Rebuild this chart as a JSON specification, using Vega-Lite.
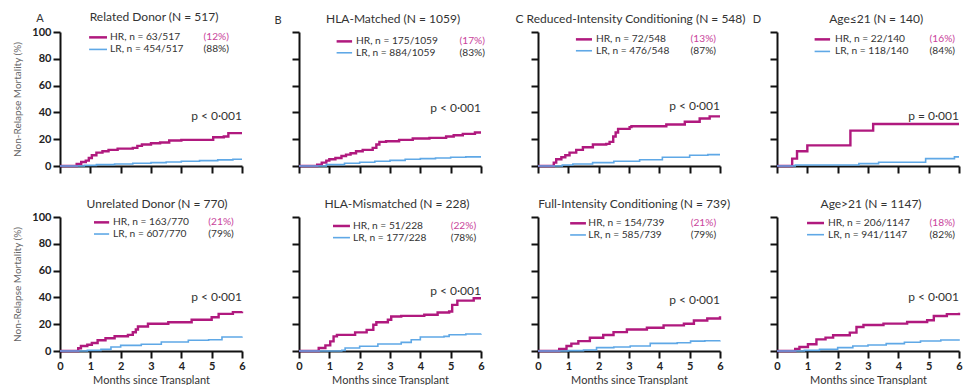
{
"$schema":"https://vega.github.io/schema/vega-lite/v6.json",
"background":"white",
"padding":{"left":12,"top":11,"right":0,"bottom":0},
"datasets":{
"labels":[
{"panel":"A1","title":"Related Donor (N = 517)","letter":"A","hr":"HR, n = 63/517","hrPct":"(12%)","lr":"LR, n = 454/517","lrPct":"(88%)","p":"p < 0·001"},
{"panel":"B1","title":"HLA-Matched (N = 1059)","letter":"B","hr":"HR, n = 175/1059","hrPct":"(17%)","lr":"LR, n = 884/1059","lrPct":"(83%)","p":"p < 0·001"},
{"panel":"C1","title":"C Reduced-Intensity Conditioning (N = 548)","letter":"","hr":"HR, n = 72/548","hrPct":"(13%)","lr":"LR, n = 476/548","lrPct":"(87%)","p":"p < 0·001"},
{"panel":"D1","title":"Age≤21 (N = 140)","letter":"D","hr":"HR, n = 22/140","hrPct":"(16%)","lr":"LR, n = 118/140","lrPct":"(84%)","p":"p = 0·001"},
{"panel":"A2","title":"Unrelated Donor (N = 770)","letter":"","hr":"HR, n = 163/770","hrPct":"(21%)","lr":"LR, n = 607/770","lrPct":"(79%)","p":"p < 0·001"},
{"panel":"B2","title":"HLA-Mismatched (N = 228)","letter":"","hr":"HR, n = 51/228","hrPct":"(22%)","lr":"LR, n = 177/228","lrPct":"(78%)","p":"p < 0·001"},
{"panel":"C2","title":"Full-Intensity Conditioning (N = 739)","letter":"","hr":"HR, n = 154/739","hrPct":"(21%)","lr":"LR, n = 585/739","lrPct":"(79%)","p":"p < 0·001"},
{"panel":"D2","title":"Age>21 (N = 1147)","letter":"","hr":"HR, n = 206/1147","hrPct":"(18%)","lr":"LR, n = 941/1147","lrPct":"(82%)","p":"p < 0·001"}
],
"curves":[
{"panel":"A1","group":"HR","month":0,"nrm":0},{"panel":"A1","group":"HR","month":0.45,"nrm":0},{"panel":"A1","group":"HR","month":0.55,"nrm":1.5},{"panel":"A1","group":"HR","month":0.7,"nrm":3},{"panel":"A1","group":"HR","month":0.85,"nrm":4},{"panel":"A1","group":"HR","month":0.95,"nrm":6},{"panel":"A1","group":"HR","month":1.05,"nrm":8},{"panel":"A1","group":"HR","month":1.2,"nrm":10},{"panel":"A1","group":"HR","month":1.4,"nrm":11},{"panel":"A1","group":"HR","month":1.6,"nrm":12},{"panel":"A1","group":"HR","month":1.9,"nrm":13},{"panel":"A1","group":"HR","month":2.4,"nrm":13.5},{"panel":"A1","group":"HR","month":2.55,"nrm":15},{"panel":"A1","group":"HR","month":2.7,"nrm":16},{"panel":"A1","group":"HR","month":3.0,"nrm":17},{"panel":"A1","group":"HR","month":3.3,"nrm":17.5},{"panel":"A1","group":"HR","month":3.6,"nrm":19},{"panel":"A1","group":"HR","month":4.0,"nrm":19.5},{"panel":"A1","group":"HR","month":4.9,"nrm":19.5},{"panel":"A1","group":"HR","month":5.05,"nrm":21.5},{"panel":"A1","group":"HR","month":5.4,"nrm":22},{"panel":"A1","group":"HR","month":5.55,"nrm":24.5},{"panel":"A1","group":"HR","month":6,"nrm":24.5},
{"panel":"A1","group":"LR","month":0,"nrm":0},{"panel":"A1","group":"LR","month":0.6,"nrm":0},{"panel":"A1","group":"LR","month":0.8,"nrm":0.5},{"panel":"A1","group":"LR","month":1.2,"nrm":1},{"panel":"A1","group":"LR","month":1.8,"nrm":1.5},{"panel":"A1","group":"LR","month":2.4,"nrm":2},{"panel":"A1","group":"LR","month":3,"nrm":2.5},{"panel":"A1","group":"LR","month":3.5,"nrm":3},{"panel":"A1","group":"LR","month":4,"nrm":3.5},{"panel":"A1","group":"LR","month":4.6,"nrm":4},{"panel":"A1","group":"LR","month":5.2,"nrm":4.6},{"panel":"A1","group":"LR","month":5.7,"nrm":5},{"panel":"A1","group":"LR","month":6,"nrm":5},
{"panel":"B1","group":"HR","month":0,"nrm":0},{"panel":"B1","group":"HR","month":0.5,"nrm":0},{"panel":"B1","group":"HR","month":0.6,"nrm":1},{"panel":"B1","group":"HR","month":0.75,"nrm":2.5},{"panel":"B1","group":"HR","month":0.9,"nrm":4},{"panel":"B1","group":"HR","month":1.0,"nrm":5},{"panel":"B1","group":"HR","month":1.2,"nrm":6},{"panel":"B1","group":"HR","month":1.4,"nrm":7.5},{"panel":"B1","group":"HR","month":1.55,"nrm":8.5},{"panel":"B1","group":"HR","month":1.7,"nrm":9.5},{"panel":"B1","group":"HR","month":1.88,"nrm":11},{"panel":"B1","group":"HR","month":2.1,"nrm":12},{"panel":"B1","group":"HR","month":2.43,"nrm":13.5},{"panel":"B1","group":"HR","month":2.55,"nrm":16},{"panel":"B1","group":"HR","month":2.65,"nrm":18},{"panel":"B1","group":"HR","month":2.87,"nrm":18.5},{"panel":"B1","group":"HR","month":3.3,"nrm":19.5},{"panel":"B1","group":"HR","month":3.75,"nrm":20.5},{"panel":"B1","group":"HR","month":4.3,"nrm":21},{"panel":"B1","group":"HR","month":4.85,"nrm":22},{"panel":"B1","group":"HR","month":5.1,"nrm":23},{"panel":"B1","group":"HR","month":5.4,"nrm":24},{"panel":"B1","group":"HR","month":5.8,"nrm":25},{"panel":"B1","group":"HR","month":6,"nrm":25},
{"panel":"B1","group":"LR","month":0,"nrm":0},{"panel":"B1","group":"LR","month":0.6,"nrm":0},{"panel":"B1","group":"LR","month":0.9,"nrm":1},{"panel":"B1","group":"LR","month":1.5,"nrm":2},{"panel":"B1","group":"LR","month":2,"nrm":2.8},{"panel":"B1","group":"LR","month":2.5,"nrm":3.5},{"panel":"B1","group":"LR","month":3,"nrm":4.2},{"panel":"B1","group":"LR","month":3.5,"nrm":5},{"panel":"B1","group":"LR","month":4,"nrm":5.5},{"panel":"B1","group":"LR","month":4.5,"nrm":6},{"panel":"B1","group":"LR","month":5,"nrm":6.5},{"panel":"B1","group":"LR","month":5.5,"nrm":6.8},{"panel":"B1","group":"LR","month":6,"nrm":6.8},
{"panel":"C1","group":"HR","month":0,"nrm":0},{"panel":"C1","group":"HR","month":0.44,"nrm":0},{"panel":"C1","group":"HR","month":0.52,"nrm":2.5},{"panel":"C1","group":"HR","month":0.6,"nrm":5},{"panel":"C1","group":"HR","month":0.77,"nrm":6.5},{"panel":"C1","group":"HR","month":0.9,"nrm":8},{"panel":"C1","group":"HR","month":1.04,"nrm":10},{"panel":"C1","group":"HR","month":1.26,"nrm":12},{"panel":"C1","group":"HR","month":1.48,"nrm":14},{"panel":"C1","group":"HR","month":1.81,"nrm":16},{"panel":"C1","group":"HR","month":2.25,"nrm":16.5},{"panel":"C1","group":"HR","month":2.36,"nrm":18},{"panel":"C1","group":"HR","month":2.48,"nrm":22},{"panel":"C1","group":"HR","month":2.56,"nrm":25},{"panel":"C1","group":"HR","month":2.64,"nrm":27.7},{"panel":"C1","group":"HR","month":3.02,"nrm":29},{"panel":"C1","group":"HR","month":3.08,"nrm":29.7},{"panel":"C1","group":"HR","month":4.23,"nrm":31},{"panel":"C1","group":"HR","month":4.84,"nrm":33},{"panel":"C1","group":"HR","month":5.33,"nrm":35.4},{"panel":"C1","group":"HR","month":5.66,"nrm":37},{"panel":"C1","group":"HR","month":6,"nrm":37},
{"panel":"C1","group":"LR","month":0,"nrm":0},{"panel":"C1","group":"LR","month":0.55,"nrm":0},{"panel":"C1","group":"LR","month":0.8,"nrm":0.8},{"panel":"C1","group":"LR","month":1.15,"nrm":1.5},{"panel":"C1","group":"LR","month":1.8,"nrm":2.5},{"panel":"C1","group":"LR","month":2.5,"nrm":3.5},{"panel":"C1","group":"LR","month":3.35,"nrm":4.7},{"panel":"C1","group":"LR","month":4.1,"nrm":6.5},{"panel":"C1","group":"LR","month":5,"nrm":8},{"panel":"C1","group":"LR","month":5.6,"nrm":8.5},{"panel":"C1","group":"LR","month":6,"nrm":8.5},
{"panel":"D1","group":"HR","month":0,"nrm":0},{"panel":"D1","group":"HR","month":0.5,"nrm":5.5},{"panel":"D1","group":"HR","month":0.66,"nrm":11},{"panel":"D1","group":"HR","month":1.0,"nrm":15.4},{"panel":"D1","group":"HR","month":2.42,"nrm":26.4},{"panel":"D1","group":"HR","month":3.17,"nrm":31.3},{"panel":"D1","group":"HR","month":6,"nrm":31.3},
{"panel":"D1","group":"LR","month":0,"nrm":0},{"panel":"D1","group":"LR","month":0.6,"nrm":0.8},{"panel":"D1","group":"LR","month":2.7,"nrm":1.8},{"panel":"D1","group":"LR","month":3.35,"nrm":2.8},{"panel":"D1","group":"LR","month":4.9,"nrm":5.5},{"panel":"D1","group":"LR","month":5.85,"nrm":6.8},{"panel":"D1","group":"LR","month":6,"nrm":6.8},
{"panel":"A2","group":"HR","month":0,"nrm":0},{"panel":"A2","group":"HR","month":0.49,"nrm":0},{"panel":"A2","group":"HR","month":0.6,"nrm":2},{"panel":"A2","group":"HR","month":0.69,"nrm":3.7},{"panel":"A2","group":"HR","month":0.9,"nrm":4.7},{"panel":"A2","group":"HR","month":1.05,"nrm":6},{"panel":"A2","group":"HR","month":1.24,"nrm":8},{"panel":"A2","group":"HR","month":1.5,"nrm":9.5},{"panel":"A2","group":"HR","month":1.8,"nrm":11},{"panel":"A2","group":"HR","month":2.24,"nrm":12},{"panel":"A2","group":"HR","month":2.4,"nrm":14},{"panel":"A2","group":"HR","month":2.5,"nrm":16},{"panel":"A2","group":"HR","month":2.57,"nrm":18.3},{"panel":"A2","group":"HR","month":2.9,"nrm":20.3},{"panel":"A2","group":"HR","month":3.57,"nrm":21.5},{"panel":"A2","group":"HR","month":4.34,"nrm":23.3},{"panel":"A2","group":"HR","month":5.0,"nrm":25.2},{"panel":"A2","group":"HR","month":5.23,"nrm":27.7},{"panel":"A2","group":"HR","month":5.7,"nrm":29},{"panel":"A2","group":"HR","month":6,"nrm":29.5},
{"panel":"A2","group":"LR","month":0,"nrm":0},{"panel":"A2","group":"LR","month":0.55,"nrm":0},{"panel":"A2","group":"LR","month":0.9,"nrm":0.5},{"panel":"A2","group":"LR","month":1.35,"nrm":1.2},{"panel":"A2","group":"LR","month":1.68,"nrm":3},{"panel":"A2","group":"LR","month":2.0,"nrm":4.2},{"panel":"A2","group":"LR","month":2.68,"nrm":5},{"panel":"A2","group":"LR","month":3.34,"nrm":6.7},{"panel":"A2","group":"LR","month":4.23,"nrm":8},{"panel":"A2","group":"LR","month":4.9,"nrm":8.4},{"panel":"A2","group":"LR","month":5.34,"nrm":10.4},{"panel":"A2","group":"LR","month":6,"nrm":10.9},
{"panel":"B2","group":"HR","month":0,"nrm":0},{"panel":"B2","group":"HR","month":0.54,"nrm":0},{"panel":"B2","group":"HR","month":0.65,"nrm":2.2},{"panel":"B2","group":"HR","month":0.87,"nrm":4.2},{"panel":"B2","group":"HR","month":1.03,"nrm":7.2},{"panel":"B2","group":"HR","month":1.14,"nrm":10.9},{"panel":"B2","group":"HR","month":1.25,"nrm":12},{"panel":"B2","group":"HR","month":1.85,"nrm":13.9},{"panel":"B2","group":"HR","month":2.23,"nrm":15.8},{"panel":"B2","group":"HR","month":2.45,"nrm":19.6},{"panel":"B2","group":"HR","month":2.55,"nrm":21.5},{"panel":"B2","group":"HR","month":2.93,"nrm":23.3},{"panel":"B2","group":"HR","month":3.04,"nrm":25.7},{"panel":"B2","group":"HR","month":3.37,"nrm":26.2},{"panel":"B2","group":"HR","month":4.13,"nrm":27},{"panel":"B2","group":"HR","month":4.57,"nrm":28.7},{"panel":"B2","group":"HR","month":4.95,"nrm":29.5},{"panel":"B2","group":"HR","month":5.05,"nrm":34.4},{"panel":"B2","group":"HR","month":5.22,"nrm":37.6},{"panel":"B2","group":"HR","month":5.76,"nrm":39.4},{"panel":"B2","group":"HR","month":6,"nrm":39.4},
{"panel":"B2","group":"LR","month":0,"nrm":0},{"panel":"B2","group":"LR","month":0.87,"nrm":0},{"panel":"B2","group":"LR","month":1.41,"nrm":0.5},{"panel":"B2","group":"LR","month":1.52,"nrm":2.2},{"panel":"B2","group":"LR","month":2.0,"nrm":3.5},{"panel":"B2","group":"LR","month":2.6,"nrm":5.2},{"panel":"B2","group":"LR","month":3.37,"nrm":6.4},{"panel":"B2","group":"LR","month":3.7,"nrm":8.4},{"panel":"B2","group":"LR","month":4.0,"nrm":10.4},{"panel":"B2","group":"LR","month":4.78,"nrm":10.9},{"panel":"B2","group":"LR","month":4.95,"nrm":12.1},{"panel":"B2","group":"LR","month":5.5,"nrm":12.7},{"panel":"B2","group":"LR","month":6,"nrm":12.9},
{"panel":"C2","group":"HR","month":0,"nrm":0},{"panel":"C2","group":"HR","month":0.5,"nrm":0},{"panel":"C2","group":"HR","month":0.7,"nrm":1.5},{"panel":"C2","group":"HR","month":0.94,"nrm":3.7},{"panel":"C2","group":"HR","month":1.1,"nrm":5.5},{"panel":"C2","group":"HR","month":1.33,"nrm":7.4},{"panel":"C2","group":"HR","month":1.71,"nrm":9.9},{"panel":"C2","group":"HR","month":2.15,"nrm":11.9},{"panel":"C2","group":"HR","month":2.49,"nrm":14.1},{"panel":"C2","group":"HR","month":2.93,"nrm":16.1},{"panel":"C2","group":"HR","month":3.59,"nrm":17.4},{"panel":"C2","group":"HR","month":4.14,"nrm":19.1},{"panel":"C2","group":"HR","month":4.81,"nrm":20.3},{"panel":"C2","group":"HR","month":5.14,"nrm":22.8},{"panel":"C2","group":"HR","month":5.58,"nrm":24.3},{"panel":"C2","group":"HR","month":6,"nrm":26},
{"panel":"C2","group":"LR","month":0,"nrm":0},{"panel":"C2","group":"LR","month":0.6,"nrm":0},{"panel":"C2","group":"LR","month":1.0,"nrm":0.3},{"panel":"C2","group":"LR","month":1.5,"nrm":0.7},{"panel":"C2","group":"LR","month":1.93,"nrm":2.5},{"panel":"C2","group":"LR","month":2.5,"nrm":3},{"panel":"C2","group":"LR","month":3.04,"nrm":3.7},{"panel":"C2","group":"LR","month":3.7,"nrm":5.7},{"panel":"C2","group":"LR","month":4.59,"nrm":6.2},{"panel":"C2","group":"LR","month":5.03,"nrm":7.4},{"panel":"C2","group":"LR","month":5.5,"nrm":7.7},{"panel":"C2","group":"LR","month":6,"nrm":7.9},
{"panel":"D2","group":"HR","month":0,"nrm":0},{"panel":"D2","group":"HR","month":0.47,"nrm":0},{"panel":"D2","group":"HR","month":0.6,"nrm":1.5},{"panel":"D2","group":"HR","month":0.74,"nrm":3},{"panel":"D2","group":"HR","month":1.02,"nrm":5},{"panel":"D2","group":"HR","month":1.3,"nrm":8.7},{"panel":"D2","group":"HR","month":1.6,"nrm":10},{"panel":"D2","group":"HR","month":1.85,"nrm":11.7},{"panel":"D2","group":"HR","month":2.4,"nrm":13.7},{"panel":"D2","group":"HR","month":2.62,"nrm":17.9},{"panel":"D2","group":"HR","month":2.85,"nrm":19.4},{"panel":"D2","group":"HR","month":3.51,"nrm":20.4},{"panel":"D2","group":"HR","month":4.29,"nrm":21.6},{"panel":"D2","group":"HR","month":4.95,"nrm":22.9},{"panel":"D2","group":"HR","month":5.17,"nrm":26.1},{"panel":"D2","group":"HR","month":5.6,"nrm":27.5},{"panel":"D2","group":"HR","month":6,"nrm":28.6},
{"panel":"D2","group":"LR","month":0,"nrm":0},{"panel":"D2","group":"LR","month":0.52,"nrm":0},{"panel":"D2","group":"LR","month":0.9,"nrm":0.5},{"panel":"D2","group":"LR","month":1.4,"nrm":1.2},{"panel":"D2","group":"LR","month":2.0,"nrm":2.5},{"panel":"D2","group":"LR","month":2.5,"nrm":3.7},{"panel":"D2","group":"LR","month":3.0,"nrm":4.5},{"panel":"D2","group":"LR","month":3.6,"nrm":5.5},{"panel":"D2","group":"LR","month":4.2,"nrm":6.5},{"panel":"D2","group":"LR","month":4.73,"nrm":7.5},{"panel":"D2","group":"LR","month":5.4,"nrm":8.2},{"panel":"D2","group":"LR","month":6,"nrm":8.7}
]
},
"columns":4,
"spacing":{"row":51,"column":57},
"bounds":"flush",
"concat":[
{"width":182,"height":134,"layer":[
 {"data":{"name":"curves"},"transform":[{"filter":"datum.panel === 'A1'"}],"mark":{"type":"line","interpolate":"step-after"},
  "encoding":{"x":{"field":"month","type":"quantitative","scale":{"domain":[0,6],"nice":false},"axis":{"values":[0,1,2,3,4,5,6],"tickCount":10,"format":"d","labels":false,"title":null}},
   "y":{"field":"nrm","type":"quantitative","scale":{"domain":[0,100],"nice":false},"axis":{"values":[0,20,40,60,80,100],"tickCount":10,"format":"d","title":"Non-Relapse Mortality (%)","labelFontSize":11,"labelFontWeight":"bold","labelPadding":2,"titleFontSize":10,"titleFontWeight":"normal","titleColor":"#666","titlePadding":9}},
   "color":{"field":"group","type":"nominal","scale":{"domain":["HR","LR"],"range":["#b0197e","#5fa8e6"]},"legend":null},
   "size":{"field":"group","type":"ordinal","scale":{"domain":["HR","LR"],"range":[2.4,1.6]},"legend":null}}},
 {"data":{"name":"labels"},"transform":[{"filter":"datum.panel === 'A1'"}],"layer":[
  {"mark":{"type":"rule","color":"#b0197e","strokeWidth":2.5},"encoding":{"x":{"datum":0.96},"x2":{"datum":1.55},"y":{"datum":96}}},
  {"mark":{"type":"rule","color":"#5fa8e6","strokeWidth":1.6},"encoding":{"x":{"datum":0.96},"x2":{"datum":1.55},"y":{"datum":87}}},
  {"mark":{"type":"text","align":"left","baseline":"middle"},"encoding":{"x":{"datum":1.65},"y":{"datum":96},"text":{"field":"hr"}}},
  {"mark":{"type":"text","align":"right","baseline":"middle","color":"#c9449b"},"encoding":{"x":{"datum":5.57},"y":{"datum":96},"text":{"field":"hrPct"}}},
  {"mark":{"type":"text","align":"left","baseline":"middle"},"encoding":{"x":{"datum":1.65},"y":{"datum":87},"text":{"field":"lr"}}},
  {"mark":{"type":"text","align":"right","baseline":"middle"},"encoding":{"x":{"datum":5.57},"y":{"datum":87},"text":{"field":"lrPct"}}},
  {"mark":{"type":"text","align":"right","baseline":"middle","fontSize":12},"encoding":{"x":{"datum":6},"y":{"datum":37},"text":{"field":"p"}}},
  {"mark":{"type":"text","align":"center","baseline":"middle","fontSize":12,"dy":-15},"encoding":{"x":{"datum":3.1},"y":{"datum":100},"text":{"field":"title"}}},
  {"mark":{"type":"text","align":"center","baseline":"middle","fontSize":11,"dx":-20,"dy":-13},"encoding":{"x":{"datum":0},"y":{"datum":100},"text":{"field":"letter"}}}
 ]}
]},
{"width":182,"height":134,"layer":[
 {"data":{"name":"curves"},"transform":[{"filter":"datum.panel === 'B1'"}],"mark":{"type":"line","interpolate":"step-after"},
  "encoding":{"x":{"field":"month","type":"quantitative","scale":{"domain":[0,6],"nice":false},"axis":{"values":[0,1,2,3,4,5,6],"tickCount":10,"format":"d","labels":false,"title":null}},
   "y":{"field":"nrm","type":"quantitative","scale":{"domain":[0,100],"nice":false},"axis":{"values":[0,20,40,60,80,100],"tickCount":10,"format":"d","labels":false,"title":null}},
   "color":{"field":"group","type":"nominal","scale":{"domain":["HR","LR"],"range":["#b0197e","#5fa8e6"]},"legend":null},
   "size":{"field":"group","type":"ordinal","scale":{"domain":["HR","LR"],"range":[2.4,1.6]},"legend":null}}},
 {"data":{"name":"labels"},"transform":[{"filter":"datum.panel === 'B1'"}],"layer":[
  {"mark":{"type":"rule","color":"#b0197e","strokeWidth":2.5},"encoding":{"x":{"datum":1.24},"x2":{"datum":1.75},"y":{"datum":93}}},
  {"mark":{"type":"rule","color":"#5fa8e6","strokeWidth":1.6},"encoding":{"x":{"datum":1.24},"x2":{"datum":1.75},"y":{"datum":84.5}}},
  {"mark":{"type":"text","align":"left","baseline":"middle"},"encoding":{"x":{"datum":1.88},"y":{"datum":93},"text":{"field":"hr"}}},
  {"mark":{"type":"text","align":"right","baseline":"middle","color":"#c9449b","dx":4},"encoding":{"x":{"datum":6},"y":{"datum":93},"text":{"field":"hrPct"}}},
  {"mark":{"type":"text","align":"left","baseline":"middle"},"encoding":{"x":{"datum":1.88},"y":{"datum":84.5},"text":{"field":"lr"}}},
  {"mark":{"type":"text","align":"right","baseline":"middle","dx":4},"encoding":{"x":{"datum":6},"y":{"datum":84.5},"text":{"field":"lrPct"}}},
  {"mark":{"type":"text","align":"right","baseline":"middle","fontSize":12},"encoding":{"x":{"datum":6},"y":{"datum":43.5},"text":{"field":"p"}}},
  {"mark":{"type":"text","align":"center","baseline":"middle","fontSize":12,"dy":-13},"encoding":{"x":{"datum":3.1},"y":{"datum":100},"text":{"field":"title"}}},
  {"mark":{"type":"text","align":"center","baseline":"middle","fontSize":11,"dx":-21,"dy":-11},"encoding":{"x":{"datum":0},"y":{"datum":100},"text":{"field":"letter"}}}
 ]}
]},
{"width":182,"height":134,"layer":[
 {"data":{"name":"curves"},"transform":[{"filter":"datum.panel === 'C1'"}],"mark":{"type":"line","interpolate":"step-after"},
  "encoding":{"x":{"field":"month","type":"quantitative","scale":{"domain":[0,6],"nice":false},"axis":{"values":[0,1,2,3,4,5,6],"tickCount":10,"format":"d","labels":false,"title":null}},
   "y":{"field":"nrm","type":"quantitative","scale":{"domain":[0,100],"nice":false},"axis":{"values":[0,20,40,60,80,100],"tickCount":10,"format":"d","labels":false,"title":null}},
   "color":{"field":"group","type":"nominal","scale":{"domain":["HR","LR"],"range":["#b0197e","#5fa8e6"]},"legend":null},
   "size":{"field":"group","type":"ordinal","scale":{"domain":["HR","LR"],"range":[2.4,1.6]},"legend":null}}},
 {"data":{"name":"labels"},"transform":[{"filter":"datum.panel === 'C1'"}],"layer":[
  {"mark":{"type":"rule","color":"#b0197e","strokeWidth":2.5},"encoding":{"x":{"datum":1.25},"x2":{"datum":1.78},"y":{"datum":94.5}}},
  {"mark":{"type":"rule","color":"#5fa8e6","strokeWidth":1.6},"encoding":{"x":{"datum":1.25},"x2":{"datum":1.78},"y":{"datum":86}}},
  {"mark":{"type":"text","align":"left","baseline":"middle"},"encoding":{"x":{"datum":1.91},"y":{"datum":94.5},"text":{"field":"hr"}}},
  {"mark":{"type":"text","align":"right","baseline":"middle","color":"#c9449b"},"encoding":{"x":{"datum":5.87},"y":{"datum":94.5},"text":{"field":"hrPct"}}},
  {"mark":{"type":"text","align":"left","baseline":"middle"},"encoding":{"x":{"datum":1.91},"y":{"datum":86},"text":{"field":"lr"}}},
  {"mark":{"type":"text","align":"right","baseline":"middle"},"encoding":{"x":{"datum":5.87},"y":{"datum":86},"text":{"field":"lrPct"}}},
  {"mark":{"type":"text","align":"right","baseline":"middle","fontSize":12},"encoding":{"x":{"datum":6},"y":{"datum":45},"text":{"field":"p"}}},
  {"mark":{"type":"text","align":"center","baseline":"middle","fontSize":12,"dy":-13},"encoding":{"x":{"datum":3.05},"y":{"datum":100},"text":{"field":"title"}}}
 ]}
]},
{"width":182,"height":134,"layer":[
 {"data":{"name":"curves"},"transform":[{"filter":"datum.panel === 'D1'"}],"mark":{"type":"line","interpolate":"step-after"},
  "encoding":{"x":{"field":"month","type":"quantitative","scale":{"domain":[0,6],"nice":false},"axis":{"values":[0,1,2,3,4,5,6],"tickCount":10,"format":"d","labels":false,"title":null}},
   "y":{"field":"nrm","type":"quantitative","scale":{"domain":[0,100],"nice":false},"axis":{"values":[0,20,40,60,80,100],"tickCount":10,"format":"d","labels":false,"title":null}},
   "color":{"field":"group","type":"nominal","scale":{"domain":["HR","LR"],"range":["#b0197e","#5fa8e6"]},"legend":null},
   "size":{"field":"group","type":"ordinal","scale":{"domain":["HR","LR"],"range":[2.4,1.6]},"legend":null}}},
 {"data":{"name":"labels"},"transform":[{"filter":"datum.panel === 'D1'"}],"layer":[
  {"mark":{"type":"rule","color":"#b0197e","strokeWidth":2.5},"encoding":{"x":{"datum":1.24},"x2":{"datum":1.75},"y":{"datum":94.5}}},
  {"mark":{"type":"rule","color":"#5fa8e6","strokeWidth":1.6},"encoding":{"x":{"datum":1.24},"x2":{"datum":1.75},"y":{"datum":85.5}}},
  {"mark":{"type":"text","align":"left","baseline":"middle"},"encoding":{"x":{"datum":1.91},"y":{"datum":94.5},"text":{"field":"hr"}}},
  {"mark":{"type":"text","align":"right","baseline":"middle","color":"#c9449b"},"encoding":{"x":{"datum":5.87},"y":{"datum":94.5},"text":{"field":"hrPct"}}},
  {"mark":{"type":"text","align":"left","baseline":"middle"},"encoding":{"x":{"datum":1.91},"y":{"datum":85.5},"text":{"field":"lr"}}},
  {"mark":{"type":"text","align":"right","baseline":"middle"},"encoding":{"x":{"datum":5.87},"y":{"datum":85.5},"text":{"field":"lrPct"}}},
  {"mark":{"type":"text","align":"right","baseline":"middle","fontSize":12},"encoding":{"x":{"datum":6},"y":{"datum":37},"text":{"field":"p"}}},
  {"mark":{"type":"text","align":"center","baseline":"middle","fontSize":12,"dy":-13},"encoding":{"x":{"datum":3.27},"y":{"datum":100},"text":{"field":"title"}}},
  {"mark":{"type":"text","align":"center","baseline":"middle","fontSize":11,"dx":-20,"dy":-12},"encoding":{"x":{"datum":0},"y":{"datum":100},"text":{"field":"letter"}}}
 ]}
]},
{"width":182,"height":134,"layer":[
 {"data":{"name":"curves"},"transform":[{"filter":"datum.panel === 'A2'"}],"mark":{"type":"line","interpolate":"step-after"},
  "encoding":{"x":{"field":"month","type":"quantitative","scale":{"domain":[0,6],"nice":false},"axis":{"values":[0,1,2,3,4,5,6],"tickCount":10,"format":"d","title":"Months since Transplant","labelFontSize":11,"labelFontWeight":"bold","labelPadding":2,"titleFontSize":11,"titleFontWeight":"normal","titlePadding":3}},
   "y":{"field":"nrm","type":"quantitative","scale":{"domain":[0,100],"nice":false},"axis":{"values":[0,20,40,60,80,100],"tickCount":10,"format":"d","title":"Non-Relapse Mortality (%)","labelFontSize":11,"labelFontWeight":"bold","labelPadding":2,"titleFontSize":10,"titleFontWeight":"normal","titleColor":"#666","titlePadding":9}},
   "color":{"field":"group","type":"nominal","scale":{"domain":["HR","LR"],"range":["#b0197e","#5fa8e6"]},"legend":null},
   "size":{"field":"group","type":"ordinal","scale":{"domain":["HR","LR"],"range":[2.4,1.6]},"legend":null}}},
 {"data":{"name":"labels"},"transform":[{"filter":"datum.panel === 'A2'"}],"layer":[
  {"mark":{"type":"rule","color":"#b0197e","strokeWidth":2.5},"encoding":{"x":{"datum":1.12},"x2":{"datum":1.62},"y":{"datum":96}}},
  {"mark":{"type":"rule","color":"#5fa8e6","strokeWidth":1.6},"encoding":{"x":{"datum":1.12},"x2":{"datum":1.62},"y":{"datum":87.3}}},
  {"mark":{"type":"text","align":"left","baseline":"middle"},"encoding":{"x":{"datum":1.75},"y":{"datum":96},"text":{"field":"hr"}}},
  {"mark":{"type":"text","align":"right","baseline":"middle","color":"#c9449b"},"encoding":{"x":{"datum":5.73},"y":{"datum":96},"text":{"field":"hrPct"}}},
  {"mark":{"type":"text","align":"left","baseline":"middle"},"encoding":{"x":{"datum":1.75},"y":{"datum":87.3},"text":{"field":"lr"}}},
  {"mark":{"type":"text","align":"right","baseline":"middle"},"encoding":{"x":{"datum":5.73},"y":{"datum":87.3},"text":{"field":"lrPct"}}},
  {"mark":{"type":"text","align":"right","baseline":"middle","fontSize":12},"encoding":{"x":{"datum":6},"y":{"datum":40},"text":{"field":"p"}}},
  {"mark":{"type":"text","align":"center","baseline":"middle","fontSize":12,"dy":-13},"encoding":{"x":{"datum":3.2},"y":{"datum":100},"text":{"field":"title"}}}
 ]}
]},
{"width":182,"height":134,"layer":[
 {"data":{"name":"curves"},"transform":[{"filter":"datum.panel === 'B2'"}],"mark":{"type":"line","interpolate":"step-after"},
  "encoding":{"x":{"field":"month","type":"quantitative","scale":{"domain":[0,6],"nice":false},"axis":{"values":[0,1,2,3,4,5,6],"tickCount":10,"format":"d","title":"Months since Transplant","labelFontSize":11,"labelFontWeight":"bold","labelPadding":2,"titleFontSize":11,"titleFontWeight":"normal","titlePadding":3}},
   "y":{"field":"nrm","type":"quantitative","scale":{"domain":[0,100],"nice":false},"axis":{"values":[0,20,40,60,80,100],"tickCount":10,"format":"d","labels":false,"title":null}},
   "color":{"field":"group","type":"nominal","scale":{"domain":["HR","LR"],"range":["#b0197e","#5fa8e6"]},"legend":null},
   "size":{"field":"group","type":"ordinal","scale":{"domain":["HR","LR"],"range":[2.4,1.6]},"legend":null}}},
 {"data":{"name":"labels"},"transform":[{"filter":"datum.panel === 'B2'"}],"layer":[
  {"mark":{"type":"rule","color":"#b0197e","strokeWidth":2.5},"encoding":{"x":{"datum":1.12},"x2":{"datum":1.68},"y":{"datum":93.3}}},
  {"mark":{"type":"rule","color":"#5fa8e6","strokeWidth":1.6},"encoding":{"x":{"datum":1.12},"x2":{"datum":1.68},"y":{"datum":84.6}}},
  {"mark":{"type":"text","align":"left","baseline":"middle"},"encoding":{"x":{"datum":1.78},"y":{"datum":93.3},"text":{"field":"hr"}}},
  {"mark":{"type":"text","align":"right","baseline":"middle","color":"#c9449b"},"encoding":{"x":{"datum":5.84},"y":{"datum":93.3},"text":{"field":"hrPct"}}},
  {"mark":{"type":"text","align":"left","baseline":"middle"},"encoding":{"x":{"datum":1.78},"y":{"datum":84.6},"text":{"field":"lr"}}},
  {"mark":{"type":"text","align":"right","baseline":"middle"},"encoding":{"x":{"datum":5.84},"y":{"datum":84.6},"text":{"field":"lrPct"}}},
  {"mark":{"type":"text","align":"right","baseline":"middle","fontSize":12},"encoding":{"x":{"datum":6},"y":{"datum":45},"text":{"field":"p"}}},
  {"mark":{"type":"text","align":"center","baseline":"middle","fontSize":12,"dy":-13},"encoding":{"x":{"datum":3.23},"y":{"datum":100},"text":{"field":"title"}}}
 ]}
]},
{"width":182,"height":134,"layer":[
 {"data":{"name":"curves"},"transform":[{"filter":"datum.panel === 'C2'"}],"mark":{"type":"line","interpolate":"step-after"},
  "encoding":{"x":{"field":"month","type":"quantitative","scale":{"domain":[0,6],"nice":false},"axis":{"values":[0,1,2,3,4,5,6],"tickCount":10,"format":"d","title":"Months since Transplant","labelFontSize":11,"labelFontWeight":"bold","labelPadding":2,"titleFontSize":11,"titleFontWeight":"normal","titlePadding":3}},
   "y":{"field":"nrm","type":"quantitative","scale":{"domain":[0,100],"nice":false},"axis":{"values":[0,20,40,60,80,100],"tickCount":10,"format":"d","labels":false,"title":null}},
   "color":{"field":"group","type":"nominal","scale":{"domain":["HR","LR"],"range":["#b0197e","#5fa8e6"]},"legend":null},
   "size":{"field":"group","type":"ordinal","scale":{"domain":["HR","LR"],"range":[2.4,1.6]},"legend":null}}},
 {"data":{"name":"labels"},"transform":[{"filter":"datum.panel === 'C2'"}],"layer":[
  {"mark":{"type":"rule","color":"#b0197e","strokeWidth":2.5},"encoding":{"x":{"datum":1.06},"x2":{"datum":1.58},"y":{"datum":95.3}}},
  {"mark":{"type":"rule","color":"#5fa8e6","strokeWidth":1.6},"encoding":{"x":{"datum":1.06},"x2":{"datum":1.58},"y":{"datum":86.6}}},
  {"mark":{"type":"text","align":"left","baseline":"middle"},"encoding":{"x":{"datum":1.66},"y":{"datum":95.3},"text":{"field":"hr"}}},
  {"mark":{"type":"text","align":"right","baseline":"middle","color":"#c9449b","dx":4},"encoding":{"x":{"datum":5.74},"y":{"datum":95.3},"text":{"field":"hrPct"}}},
  {"mark":{"type":"text","align":"left","baseline":"middle"},"encoding":{"x":{"datum":1.66},"y":{"datum":86.6},"text":{"field":"lr"}}},
  {"mark":{"type":"text","align":"right","baseline":"middle","dx":4},"encoding":{"x":{"datum":5.74},"y":{"datum":86.6},"text":{"field":"lrPct"}}},
  {"mark":{"type":"text","align":"right","baseline":"middle","fontSize":12},"encoding":{"x":{"datum":6},"y":{"datum":38},"text":{"field":"p"}}},
  {"mark":{"type":"text","align":"center","baseline":"middle","fontSize":12,"dy":-13},"encoding":{"x":{"datum":3.17},"y":{"datum":100},"text":{"field":"title"}}}
 ]}
]},
{"width":182,"height":134,"layer":[
 {"data":{"name":"curves"},"transform":[{"filter":"datum.panel === 'D2'"}],"mark":{"type":"line","interpolate":"step-after"},
  "encoding":{"x":{"field":"month","type":"quantitative","scale":{"domain":[0,6],"nice":false},"axis":{"values":[0,1,2,3,4,5,6],"tickCount":10,"format":"d","title":"Months since Transplant","labelFontSize":11,"labelFontWeight":"bold","labelPadding":2,"titleFontSize":11,"titleFontWeight":"normal","titlePadding":3}},
   "y":{"field":"nrm","type":"quantitative","scale":{"domain":[0,100],"nice":false},"axis":{"values":[0,20,40,60,80,100],"tickCount":10,"format":"d","labels":false,"title":null}},
   "color":{"field":"group","type":"nominal","scale":{"domain":["HR","LR"],"range":["#b0197e","#5fa8e6"]},"legend":null},
   "size":{"field":"group","type":"ordinal","scale":{"domain":["HR","LR"],"range":[2.4,1.6]},"legend":null}}},
 {"data":{"name":"labels"},"transform":[{"filter":"datum.panel === 'D2'"}],"layer":[
  {"mark":{"type":"rule","color":"#b0197e","strokeWidth":2.5},"encoding":{"x":{"datum":0.99},"x2":{"datum":1.55},"y":{"datum":95.5}}},
  {"mark":{"type":"rule","color":"#5fa8e6","strokeWidth":1.6},"encoding":{"x":{"datum":0.99},"x2":{"datum":1.55},"y":{"datum":86.8}}},
  {"mark":{"type":"text","align":"left","baseline":"middle"},"encoding":{"x":{"datum":1.68},"y":{"datum":95.5},"text":{"field":"hr"}}},
  {"mark":{"type":"text","align":"right","baseline":"middle","color":"#c9449b"},"encoding":{"x":{"datum":5.87},"y":{"datum":95.5},"text":{"field":"hrPct"}}},
  {"mark":{"type":"text","align":"left","baseline":"middle"},"encoding":{"x":{"datum":1.68},"y":{"datum":86.8},"text":{"field":"lr"}}},
  {"mark":{"type":"text","align":"right","baseline":"middle"},"encoding":{"x":{"datum":5.87},"y":{"datum":86.8},"text":{"field":"lrPct"}}},
  {"mark":{"type":"text","align":"right","baseline":"middle","fontSize":12},"encoding":{"x":{"datum":6},"y":{"datum":40},"text":{"field":"p"}}},
  {"mark":{"type":"text","align":"center","baseline":"middle","fontSize":12,"dy":-13},"encoding":{"x":{"datum":3.1},"y":{"datum":100},"text":{"field":"title"}}}
 ]}
]}
],
"config":{
 "view":{"stroke":null},
 "font":"Lato",
 "axis":{"grid":false,"domainColor":"#111","domainWidth":2,"tickColor":"#111","tickWidth":2,"tickSize":7,"labelFont":"Lato","titleFont":"Lato","labelColor":"#222","titleColor":"#333","labelOverlap":false,"labelFlush":false,"labelBound":false},
 "text":{"font":"Lato","fontSize":10.2,"color":"#333"}
}
}
